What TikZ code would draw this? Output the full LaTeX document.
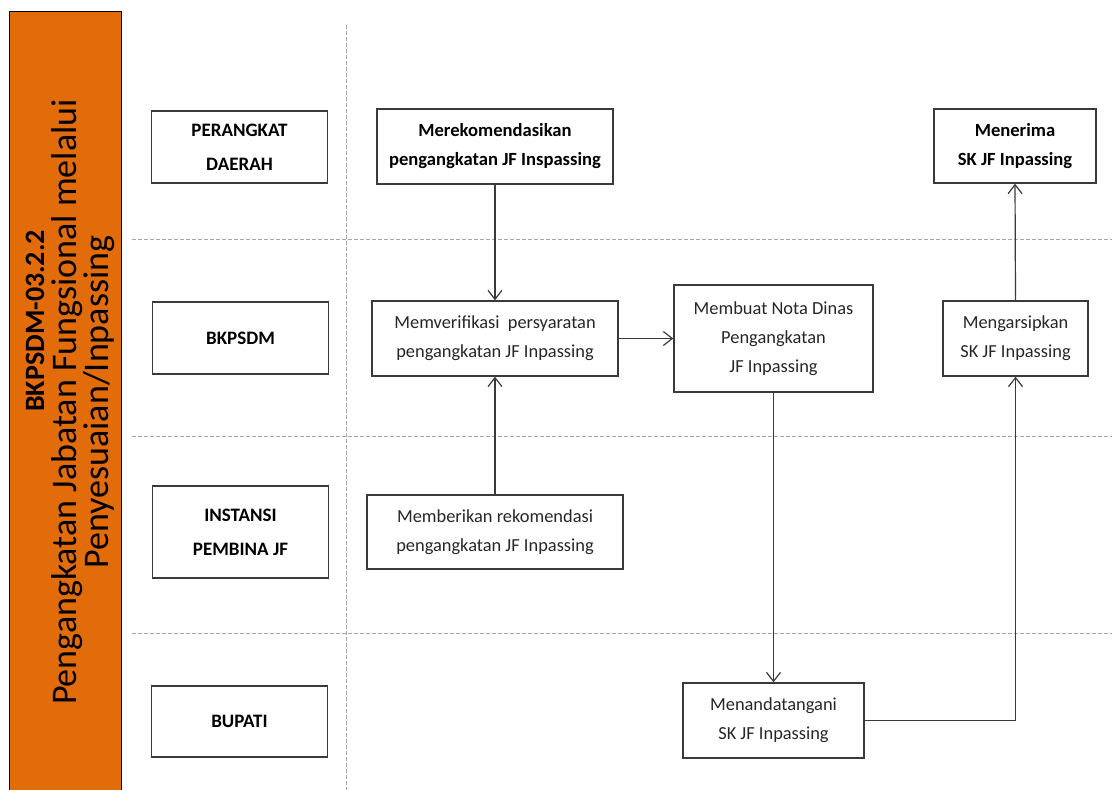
\documentclass[tikz,border=0pt]{standalone}
\usepackage{fontspec}
\setmainfont{Carlito}
\usetikzlibrary{positioning,arrows.meta}
\definecolor{barFill}{HTML}{E36C0A}
\definecolor{sepGrey}{HTML}{A6A6A6}
\definecolor{boxStroke}{HTML}{3A3A3A}
\definecolor{txtDark}{HTML}{262626}

\begin{document}
\begin{tikzpicture}[
  x=0.5pt, y=-0.5pt,
  font=\fontsize{9.2}{14.5}\selectfont,
  bar/.style     ={draw=black, fill=barFill, line width=0.6pt, inner sep=0pt},
  lanelbl/.style ={draw=boxStroke, line width=0.7pt, minimum width=88pt, align=center, inner sep=2pt, font=\fontsize{9.5}{17}\selectfont\bfseries, text=black},
  act/.style     ={draw=boxStroke, line width=0.7pt, align=center, inner sep=2pt, text=txtDark},
  actb/.style    ={act, font=\fontsize{9.3}{14.5}\selectfont\bfseries, text=black},
  flow/.style    ={-{Straight Barb[length=4.5pt,width=7pt]}, draw=boxStroke, line width=0.6pt},
  sep/.style     ={draw=sepGrey, line width=0.5pt, dash pattern=on 2pt off 1pt},
]
\useasboundingbox (0,0) rectangle (1112,790);

% ==================== Title bar ====================
\node[bar, anchor=north west, minimum width=56pt, minimum height=400pt] (bar) at (9,11) {};
\node[rotate=90, text=black, font=\fontsize{14}{16}\selectfont\bfseries] (code) at (35,321) {BKPSDM-03.2.2};
\node[rotate=90, align=center, text=black, font=\fontsize{18}{16}\selectfont] (ttl) at (83,402)
  {Pengangkatan Jabatan Fungsional melalui\\Penyesuaian/Inpassing};

% ==================== Swimlane separators ====================
\draw[sep] (346,25) -- (346,790);
\foreach \ly in {240,437,633}
  \draw[sep] (132,\ly) -- (1112,\ly);

% ==================== Lane labels ====================
\node[lanelbl, minimum height=36pt]   (pd) at (239.5,147)   {PERANGKAT\\DAERAH};
\node[lanelbl, minimum height=36pt]   (bk) at (240.5,338)   {BKPSDM};
\node[lanelbl, minimum height=46pt]   (ip) at (240.5,532)   {INSTANSI\\PEMBINA JF};
\node[lanelbl, minimum height=35.5pt] (bu) at (239.5,721.5) {BUPATI};

% ==================== Activities ====================
\node[actb, minimum width=118pt,  minimum height=37.5pt] (rek)   at (495,146.5)    {Merekomendasikan\\pengangkatan JF Inspassing};
\node[act,  minimum width=123pt,  minimum height=37.5pt] (ver)   at (495,338.5)    {Memverifikasi~~persyaratan\\pengangkatan JF Inpassing};
\node[act,  minimum width=99.5pt, minimum height=53.5pt] (nota)  at (773.5,338.5)  {Membuat Nota Dinas\\Pengangkatan\\JF Inpassing};
\node[act,  minimum width=128pt,  minimum height=37pt]   (ber)   at (495,532)      {Memberikan rekomendasi\\pengangkatan JF Inpassing};
\node[act,  minimum width=90.5pt, minimum height=37.5pt] (ttd)   at (773.5,720.5)  {Menandatangani\\SK JF Inpassing};
\node[act,  minimum width=72.5pt, minimum height=37.5pt] (arsip) at (1015.5,338.5) {Mengarsipkan\\SK JF Inpassing};
\node[actb, minimum width=81pt,   minimum height=37pt]   (ter)   at (1015,146)     {Menerima\\SK JF Inpassing};

% ==================== Arrows ====================
\draw[flow] (rek.south) -- (ver.north);
\draw[flow] (ber.north) -- (ver.south);
\draw[flow] (ver.east) -- (nota.west);
\draw[flow] (nota.south) -- (ttd.north);
\draw[flow] (ttd.east) -| (arsip.south);
\draw[flow] (arsip.north) -- (ter.south);

\end{tikzpicture}
\end{document}
